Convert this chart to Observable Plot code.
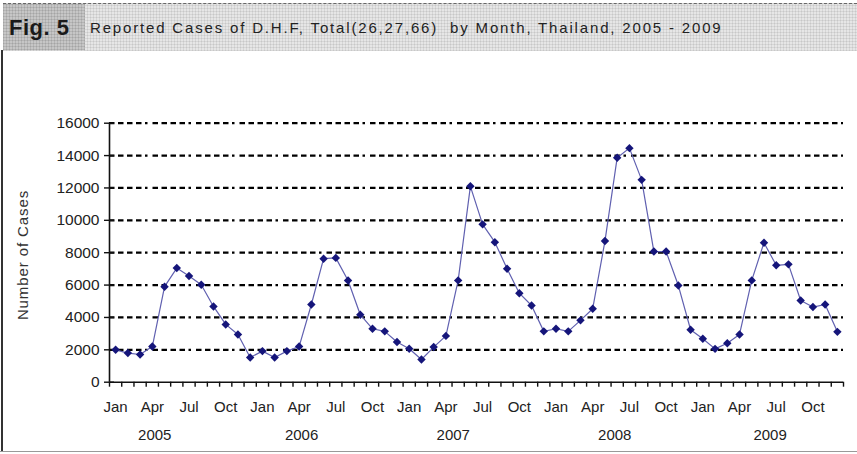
<!DOCTYPE html>
<html><head><meta charset="utf-8">
<script src="https://cdn.jsdelivr.net/npm/d3@7"></script>
<script src="https://cdn.jsdelivr.net/npm/@observablehq/plot@0.6"></script>
<style>
body{margin:0;background:#fff;}
#wrap{position:relative;width:857px;height:454px;overflow:hidden;font-family:"Liberation Sans",Arial,sans-serif;}
#head{position:relative;height:50px;}
#band{position:absolute;left:3px;right:0;top:3px;height:47px;background-color:#e6e6e6;
 background-image:repeating-linear-gradient(0deg, rgba(0,0,0,0.07) 0 1px, transparent 1px 3px), repeating-linear-gradient(90deg, rgba(0,0,0,0.07) 0 1px, transparent 1px 3px);
 border-top:1px dashed #666;}
#fig{position:absolute;left:3px;top:4px;width:82px;height:46px;background-color:#c6c6c6;
 background-image:repeating-linear-gradient(0deg, rgba(0,0,0,0.09) 0 1px, transparent 1px 3px), repeating-linear-gradient(90deg, rgba(0,0,0,0.09) 0 1px, transparent 1px 3px);}
#figt{position:absolute;left:9px;top:15px;font-weight:bold;font-size:22px;color:#1a1a1a;letter-spacing:0.5px;}
#title{position:absolute;left:90px;top:19px;font-size:15px;color:#222;white-space:pre;letter-spacing:1.83px;}
#ytitle{position:absolute;left:22px;top:255px;transform:translate(-50%,-50%) rotate(-90deg);font-size:15px;color:#333;letter-spacing:0.9px;white-space:pre;}
#lb{position:absolute;left:1px;top:50px;width:2px;height:402px;background:#333;}
#bb{position:absolute;left:0;top:451px;width:857px;height:1px;background:#999;}
svg{display:block;}
</style></head>
<body>
<div id="wrap">
 <div id="head"><div id="band"></div><div id="fig"></div><div id="figt">Fig. 5</div>
 <div id="title">Reported Cases of D.H.F, Total(26,27,66)  by Month, Thailand, 2005 - 2009</div></div>
 <div id="chart"></div>
 <div id="ytitle"></div>
 <div id="lb"></div><div id="bb"></div>
</div>
<script>
const monthNames = ["Jan","Feb","Mar","Apr","May","Jun","Jul","Aug","Sep","Oct","Nov","Dec"];
const years = [2005, 2006, 2007, 2008, 2009];
const cases = [
  2000, 1800, 1710, 2200, 5900, 7050, 6560, 6020, 4680, 3570, 2950, 1530,
  1920, 1530, 1920, 2200, 4800, 7630, 7680, 6280, 4170, 3300, 3140, 2480,
  2070, 1400, 2170, 2860, 6290, 12100, 9750, 8650, 7010, 5500, 4740, 3140,
  3300, 3140, 3820, 4540, 8720, 13870, 14460, 12500, 8070, 8070, 5970, 3240,
  2680, 2060, 2410, 2950, 6290, 8620, 7220, 7280, 5050, 4640, 4800, 3110
];
const yTicks = [0, 2000, 4000, 6000, 8000, 10000, 12000, 14000, 16000];
const labelMonths = ["Jan","Apr","Jul","Oct"];
const yearLabels = ["2005","2006","2007","2008","2009"];
const yearLabelPos = [3.2, 15.2, 27.6, 40.8, 53.5];
const yTitle = "Number of Cases";

document.getElementById("ytitle").textContent = yTitle;

const rows = cases.map((v, i) => ({i, v, year: years[Math.floor(i / 12)], month: monthNames[i % 12]}));
const n = rows.length;
const xDomain = [-0.5, n - 0.5];
const boundaries = d3.range(n + 1).map(k => k - 0.5);
const labelIdx = rows.filter(r => labelMonths.includes(r.month)).map(r => r.i);
const yearRows = yearLabels.map((t, k) => ({t, x: yearLabelPos[k]}));

const chart = Plot.plot({
  width: 857, height: 404,
  marginLeft: 109, marginRight: 14, marginTop: 72.7, marginBottom: 72.3,
  style: {fontFamily: "'Liberation Sans', Arial, sans-serif", fontSize: "15px", color: "#222", background: "transparent"},
  x: {type: "linear", domain: xDomain, axis: null},
  y: {domain: [0, 16000], axis: null},
  marks: [
    Plot.ruleY(yTicks.filter(d => d > 0), {stroke: "#000", strokeWidth: 2.2, strokeDasharray: "5.5,3.5,5.5,3.5,5.5,3.5,5.5,3.5,2.5,5"}),
    Plot.ruleY([0], {stroke: "#111", strokeWidth: 1.6}),
    Plot.ruleX([xDomain[0]], {y1: 0, y2: 16000, stroke: "#111", strokeWidth: 1.6}),
    Plot.axisY({ticks: yTicks, tickSize: 5, tickPadding: 5, tickFormat: d => String(d), stroke: "#111", strokeWidth: 1.4, fill: "#222", fontSize: 15.5, label: null}),
    Plot.axisY({ticks: yTicks, tickSize: -5, tickFormat: () => "", stroke: "#111", strokeWidth: 1.4, label: null}),
    Plot.axisX({ticks: boundaries, tickSize: 5, tickFormat: () => "", stroke: "#111", strokeWidth: 1.4, label: null}),
    Plot.axisX({ticks: labelIdx, tickSize: 0, tickPadding: 19, tickFormat: i => monthNames[i % 12], fill: "#222", label: null}),
    Plot.text(yearRows, {x: "x", y: 0, text: "t", dy: 53, fill: "#222"}),
    Plot.line(rows, {x: "i", y: "v", stroke: "#6060b0", strokeWidth: 1.2}),
    Plot.dot(rows, {x: "i", y: "v", symbol: "diamond2", r: 3.8, fill: "#15157a", stroke: "none"})
  ]
});
document.getElementById("chart").appendChild(chart);
</script>
</body></html>
